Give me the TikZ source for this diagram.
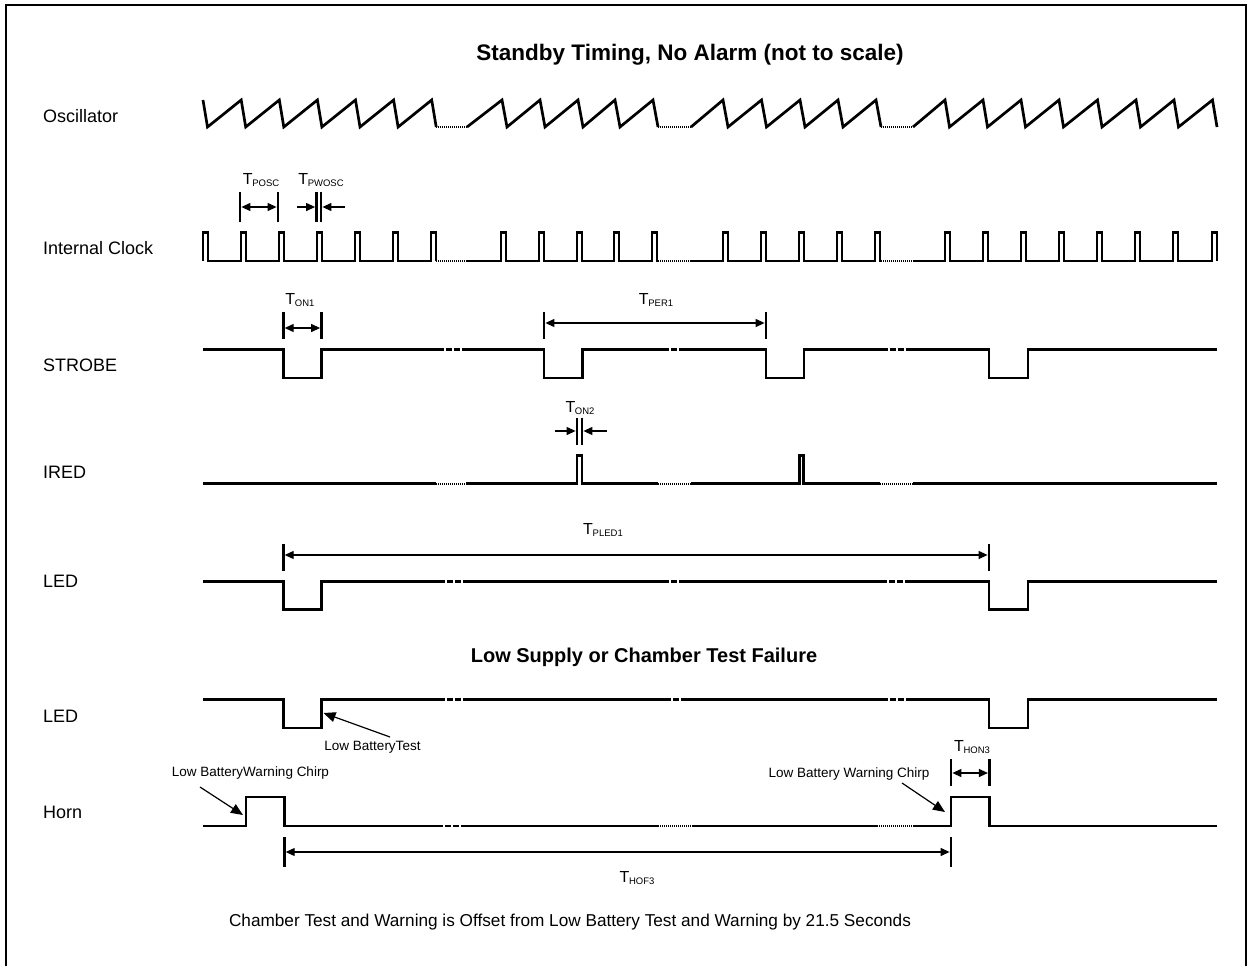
\documentclass[tikz,border=0pt]{standalone}
\usepackage{fontspec}
\setmainfont{Liberation Sans}
\usetikzlibrary{arrows.meta}
\newcommand\tlab[1]{{\fontsize{16}{16}\selectfont T}\kern-0.3pt{\fontsize{9.5}{9.5}\selectfont\raisebox{-2.5pt}{#1}}}
\begin{document}
\begin{tikzpicture}[x=1pt,y=-1pt,
  sig/.style={line width=2.7pt, line join=miter, line cap=butt},
  dotgap/.style={line width=2.2pt, dash pattern=on 1pt off 1pt},
  dashgap/.style={line width=2.7pt, dash pattern=on 6pt off 2pt},
  bar/.style={line width=2.8pt},
  dim/.style={line width=1.2pt, {Triangle[length=9pt,width=8pt]}-{Triangle[length=9pt,width=8pt]}},
  dimr/.style={line width=1.2pt, -{Triangle[length=9pt,width=8pt]}},
  note/.style={line width=1.2pt, -{Triangle[length=12pt,width=10pt]}},
  lab/.style={anchor=west, inner sep=0pt, font=\fontsize{18}{18}\selectfont},
  ttl/.style={inner sep=0pt, font=\fontsize{20}{20}\selectfont\bfseries},
  small/.style={inner sep=0pt, font=\fontsize{13.5}{13.5}\selectfont},
  tl/.style={inner sep=0pt}
]
\useasboundingbox (0,0) rectangle (1251,966);
\draw[line width=2pt] (6,966) -- (6,5) -- (1246,5) -- (1246,966);

% titles and row labels
\node[ttl, font=\fontsize{22.5}{22.5}\selectfont\bfseries] (title) at (690,55) {Standby Timing, No Alarm (not to scale)};
\node[ttl] (title2) at (644,657) {Low Supply or Chamber Test Failure};
\node[lab] (losc) at (43,116) {Oscillator};
\node[lab] (lclk) at (43,248) {Internal Clock};
\node[lab] (lstr) at (43,365) {STROBE};
\node[lab] (lired) at (43,472) {IRED};
\node[lab] (lled) at (43,581) {LED};
\node[lab] (lled2) at (43,716) {LED};
\node[lab] (lhorn) at (43,812) {Horn};
\node[inner sep=0pt, font=\fontsize{17.2}{17.2}\selectfont] (foot) at (570,922) {Chamber Test and Warning is Offset from Low Battery Test and Warning by 21.5 Seconds};

% Oscillator
\def\oT{100} \def\oB{127}
\draw[sig] (203,\oT) -- (207.5,\oB) \foreach \p in {241.2,279.3,317.4,355.5,393.6,431.7}{ -- (\p,\oT) -- (\p+4.5,\oB)};
\draw[sig] (467,\oB) \foreach \p in {502,540,578,615,653}{ -- (\p,\oT) -- (\p+5,\oB)};
\draw[sig] (691,\oB) \foreach \p in {723,761.5,800,838,876}{ -- (\p,\oT) -- (\p+5,\oB)};
\draw[sig] (913,\oB) \foreach \p in {945,983,1021,1059,1097.5,1136,1174,1212.5}{ -- (\p,\oT) -- (\p+4.5,\oB)};
\draw[dotgap] (436,\oB) -- (467,\oB);
\draw[dotgap] (658,\oB) -- (691,\oB);
\draw[dotgap] (881,\oB) -- (913,\oB);

% Internal clock
\def\cH{232.5} \def\cL{261}
\draw[sig] (203,\cL) -- (203,\cH) -- (208,\cH) -- (208,\cL) \foreach \p in {241,279,317,355,393,431}{ -- (\p,\cL) -- (\p,\cH) -- (\p+5,\cH) -- (\p+5,\cL)} -- (436,\cL);
\draw[sig] (467,\cL) \foreach \p in {501,539,577,614,652}{ -- (\p,\cL) -- (\p,\cH) -- (\p+5,\cH) -- (\p+5,\cL)} -- (658,\cL);
\draw[sig] (691,\cL) \foreach \p in {723,761,799,837,875}{ -- (\p,\cL) -- (\p,\cH) -- (\p+5,\cH) -- (\p+5,\cL)} -- (881,\cL);
\draw[sig] (913,\cL) \foreach \p in {945,983,1021,1059,1097,1135,1173,1212}{ -- (\p,\cL) -- (\p,\cH) -- (\p+5,\cH) -- (\p+5,\cL)};
\draw[dotgap] (436,\cL) -- (467,\cL);
\draw[dotgap] (658,\cL) -- (691,\cL);
\draw[dotgap] (881,\cL) -- (913,\cL);

% T_POSC, T_PWOSC
\node[tl] (tposc) at (261,180) {\tlab{POSC}};
\node[tl] (tpwosc) at (321,180) {\tlab{PWOSC}};
\coordinate (po1) at (240,207); \coordinate (po2) at (278,207);
\draw[bar] (240,192) -- (240,222);
\draw[bar] (278,192) -- (278,222);
\draw[dim] ([xshift=1.4pt]po1) -- ([xshift=-1.4pt]po2);
\draw[bar] (316.5,192) -- (316.5,222);
\draw[bar] (321,192) -- (321,222);
\coordinate (pw1) at (297,207); \coordinate (pw1e) at (315.1,207);
\coordinate (pw2) at (345,207); \coordinate (pw2e) at (322.4,207);
\draw[dimr] (pw1) -- (pw1e);
\draw[dimr] (pw2) -- (pw2e);

% STROBE
\def\sH{349.5} \def\sL{378}
\draw[sig] (203,\sH) -- (283.3,\sH) -- (283.3,\sL) -- (321.5,\sL) -- (321.5,\sH) -- (438,\sH);
\draw[sig] (465,\sH) -- (544,\sH) -- (544,\sL) -- (582.7,\sL) -- (582.7,\sH) -- (663,\sH);
\draw[sig] (685,\sH) -- (766,\sH) -- (766,\sL) -- (804,\sL) -- (804,\sH) -- (882,\sH);
\draw[sig] (912,\sH) -- (989,\sH) -- (989,\sL) -- (1028,\sL) -- (1028,\sH) -- (1217,\sH);
\draw[dashgap] (438,\sH) -- (465,\sH);
\draw[dashgap] (663,\sH) -- (685,\sH);
\draw[dashgap] (882,\sH) -- (912,\sH);

% T_ON1, T_PER1
\node[tl] (ton1) at (300,300) {\tlab{ON1}};
\draw[bar] (283.3,312) -- (283.3,339);
\draw[bar] (321.5,312) -- (321.5,339);
\coordinate (on1a) at (284.7,328); \coordinate (on1b) at (320.1,328);
\draw[dim] (on1a) -- (on1b);
\node[tl] (tper1) at (656,300) {\tlab{PER1}};
\draw[bar] (544,312) -- (544,339);
\draw[bar] (766,312) -- (766,339);
\coordinate (per1a) at (545.4,323); \coordinate (per1b) at (764.6,323);
\draw[dim] (per1a) -- (per1b);

% IRED
\def\iH{455.5} \def\iL{483.7}
\draw[sig] (203,\iL) -- (436,\iL);
\draw[sig] (466,\iL) -- (577,\iL) -- (577,\iH) -- (582,\iH) -- (582,\iL) -- (658,\iL);
\draw[sig] (691,\iL) -- (799.3,\iL) -- (799.3,\iH) -- (803.8,\iH) -- (803.8,\iL) -- (880,\iL);
\draw[sig] (913,\iL) -- (1217,\iL);
\draw[dotgap] (436,\iL) -- (466,\iL);
\draw[dotgap] (658,\iL) -- (691,\iL);
\draw[dotgap] (880,\iL) -- (913,\iL);

% T_ON2
\node[tl] (ton2) at (580,408) {\tlab{ON2}};
\draw[bar] (577,418) -- (577,445);
\draw[bar] (582,418) -- (582,445);
\coordinate (on2a) at (555,431); \coordinate (on2ae) at (575.6,431);
\coordinate (on2b) at (607,431); \coordinate (on2be) at (583.4,431);
\draw[dimr] (on2a) -- (on2ae);
\draw[dimr] (on2b) -- (on2be);

% LED standby
\def\lH{581.3} \def\lL{609.7}
\draw[sig] (203,\lH) -- (283.3,\lH) -- (283.3,\lL) -- (321.7,\lL) -- (321.7,\lH) -- (439,\lH);
\draw[sig] (465,\lH) -- (663,\lH);
\draw[sig] (685,\lH) -- (881,\lH);
\draw[sig] (910,\lH) -- (989,\lH) -- (989,\lL) -- (1028,\lL) -- (1028,\lH) -- (1217,\lH);
\draw[dashgap] (439,\lH) -- (465,\lH);
\draw[dashgap] (663,\lH) -- (685,\lH);
\draw[dashgap] (881,\lH) -- (910,\lH);

% T_PLED1
\node[tl] (tpled1) at (603,530) {\tlab{PLED1}};
\draw[bar] (283.3,544) -- (283.3,571);
\draw[bar] (989,544) -- (989,571);
\coordinate (pla) at (284.7,555); \coordinate (plb) at (987.6,555);
\draw[dim] (pla) -- (plb);

% LED low supply
\def\mH{699.6} \def\mL{728}
\draw[sig] (203,\mH) -- (283.3,\mH) -- (283.3,\mL) -- (321.7,\mL) -- (321.7,\mH) -- (439,\mH);
\draw[sig] (467,\mH) -- (665,\mH);
\draw[sig] (683,\mH) -- (882,\mH);
\draw[sig] (910,\mH) -- (989,\mH) -- (989,\mL) -- (1028,\mL) -- (1028,\mH) -- (1217,\mH);
\draw[dashgap] (439,\mH) -- (467,\mH);
\draw[dashgap] (665,\mH) -- (683,\mH);
\draw[dashgap] (882,\mH) -- (910,\mH);

\node[small] (lbt) at (372.5,747) {Low BatteryTest};
\coordinate (lbts) at (390,737); \coordinate (lbtt) at (323.5,713);
\draw[note] (lbts) -- (lbtt);

% Horn
\def\hH{797} \def\hL{826}
\draw[sig] (203,\hL) -- (246,\hL) -- (246,\hH) -- (284.3,\hH) -- (284.3,\hL) -- (437,\hL);
\draw[sig] (465,\hL) -- (658,\hL);
\draw[sig] (691.5,\hL) -- (877,\hL);
\draw[sig] (913,\hL) -- (951,\hL) -- (951,\hH) -- (989.3,\hH) -- (989.3,\hL) -- (1217,\hL);
\draw[dashgap] (437,\hL) -- (465,\hL);
\draw[dotgap] (658,\hL) -- (691.5,\hL);
\draw[dotgap] (877,\hL) -- (913,\hL);

\node[small] (chirp1) at (250.5,773) {Low BatteryWarning Chirp};
\coordinate (c1s) at (200,787); \coordinate (c1t) at (243,815);
\draw[note] (c1s) -- (c1t);
\node[small] (chirp2) at (849,774) {Low Battery Warning Chirp};
\coordinate (c2s) at (902,783); \coordinate (c2t) at (945,812);
\draw[note] (c2s) -- (c2t);

% T_HON3
\node[tl] (thon3) at (972,747) {\tlab{HON3}};
\draw[bar] (951,759) -- (951,786);
\draw[bar] (989.3,759) -- (989.3,786);
\coordinate (hna) at (952.4,773); \coordinate (hnb) at (987.9,773);
\draw[dim] (hna) -- (hnb);

% T_HOF3
\node[tl] (thof3) at (637,878) {\tlab{HOF3}};
\draw[bar] (284.3,837) -- (284.3,867);
\draw[bar] (951,837) -- (951,867);
\coordinate (hfa) at (285.7,852); \coordinate (hfb) at (949.6,852);
\draw[dim] (hfa) -- (hfb);
\end{tikzpicture}
\end{document}
